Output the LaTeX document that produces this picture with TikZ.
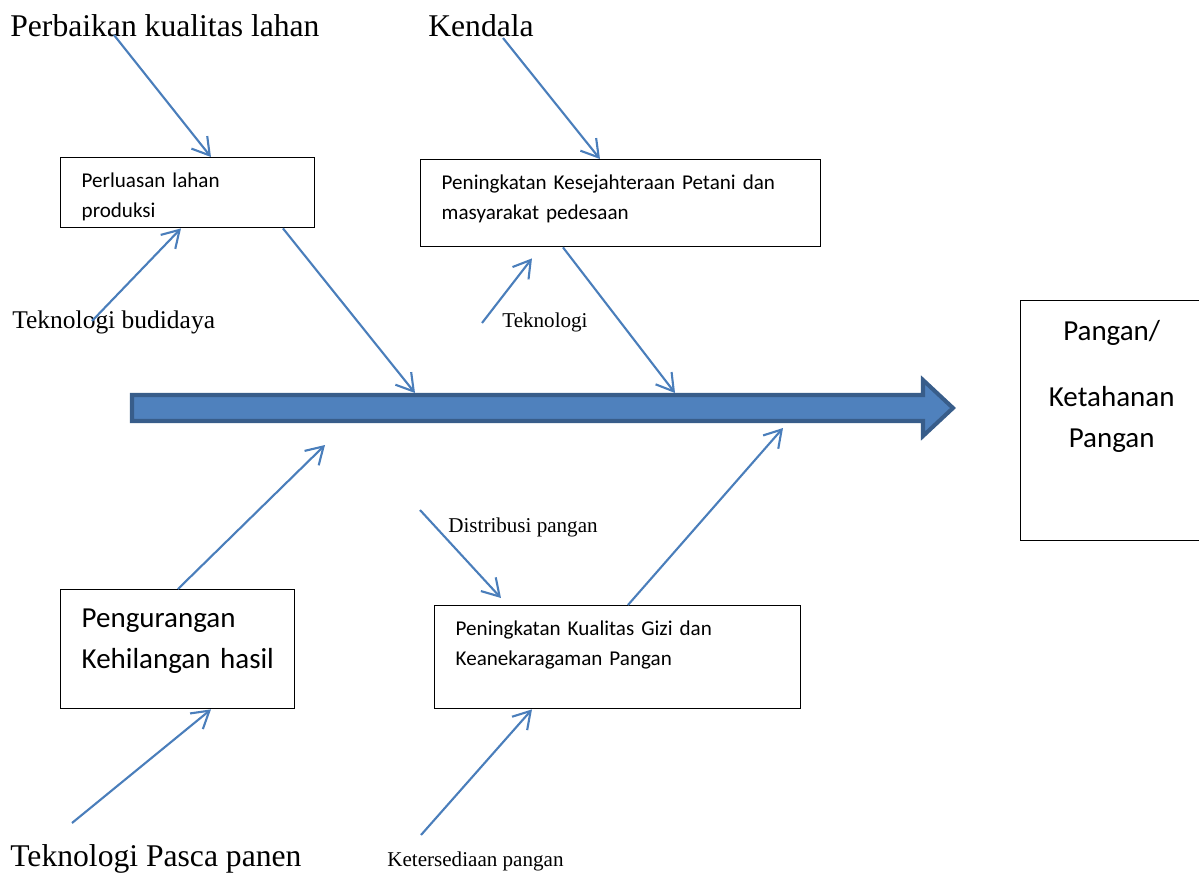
\documentclass[tikz,border=0pt]{standalone}
\usepackage{fontspec}
\setmainfont{Liberation Serif}
\newfontfamily\calibri{Carlito}
\usetikzlibrary{arrows.meta}
\definecolor{lineblue}{RGB}{74,126,187}
\definecolor{spinefill}{RGB}{79,129,189}
\definecolor{spinedraw}{RGB}{56,93,138}
\tikzstyle{box} = [rectangle, draw=black, line width=0.8pt, anchor=north west, inner xsep=0.42cm, inner ysep=0pt, align=left, font=\calibri\fontsize{12}{17}\selectfont]
\tikzstyle{bigbox} = [box, font=\calibri\fontsize{16.5}{23.3}\selectfont]
\tikzstyle{cause} = [inner sep=0pt, anchor=base west, font=\fontsize{18}{20}\selectfont]
\tikzstyle{subcause} = [inner sep=0pt, anchor=base west, font=\fontsize{12}{14}\selectfont]
\tikzstyle{arrow} = [draw=lineblue, line width=1.2pt, -{Straight Barb[length=9.5pt,width=11.5pt]}]
\tikzstyle{spine} = [draw=spinedraw, fill=spinefill, line width=2.3pt]

\begin{document}
\begin{tikzpicture}[x=0.02cm, y=-0.02cm]
				\useasboundingbox (0,0) rectangle (1199,872);
				
				% main arrow
				\draw [spine] (132,395) -- (923,395) -- (923,380) -- (953,408) -- (923,436) -- (923,421) -- (132,421) -- cycle;
				\coordinate (s1) at (415,393);
				\coordinate (s2) at (675,393);
				\coordinate (s3) at (325,445);
				\coordinate (s4) at (783,428);
				
				\node (box1) [box, text width=4.24cm, text height=0.6cm, text depth=0.8cm] at (60,157) {Perluasan lahan\\produksi};
				\node (box2) [box, text width=7.16cm, text height=0.6cm, text depth=1.14cm] at (420,159) {Peningkatan Kesejahteraan Petani dan\\masyarakat pedesaan};
				\node (box3) [bigbox, text width=3.84cm, text height=0.76cm, text depth=1.62cm] at (60,589) {Pengurangan\\Kehilangan~hasil};
				\node (box4) [box, text width=6.48cm, text height=0.6cm, text depth=1.46cm] at (434,605) {Peningkatan Kualitas Gizi dan\\Keanekaragaman Pangan};
				\node (goal) [bigbox, align=center, inner xsep=0pt, text width=3.64cm, text height=0.8cm, text depth=4cm] at (1020,300) {Pangan/\\[14pt]Ketahanan\\Pangan};
				
				\node (perbaikan) [cause] at (10,36) {Perbaikan kualitas lahan};
				\node (kendala) [cause] at (428,36) {Kendala};
				\node (budidaya) [cause, font=\fontsize{14.5}{16}\selectfont] at (12,328) {Teknologi budidaya};
				\node (teknologi) [subcause] at (502,327) {Teknologi};
				\node (distribusi) [subcause] at (448,532) {Distribusi pangan};
				\node (pasca) [cause] at (10,866) {Teknologi Pasca panen};
				\node (sedia) [subcause] at (387,866) {Ketersediaan pangan};
				
				\coordinate (c1) at (114,35);
				\coordinate (c2) at (503,38);
				\coordinate (c3) at (92,321);
				\coordinate (c5) at (482,323);
				\coordinate (c8) at (72,823);
				\coordinate (c9) at (420,510);
				\coordinate (c11) at (421,835);
				
				\draw [arrow] (c1) -- ([xshift=3.02cm]box1.north west);
				\draw [arrow] (c2) -- ([xshift=3.6cm]box2.north west);
				\draw [arrow] (c3) -- ([xshift=2.42cm]box1.south west);
				\draw [arrow] ([xshift=4.46cm]box1.south west) -- (s1);
				\draw [arrow] (c5) -- ([xshift=2.24cm,yshift=-0.22cm]box2.south west);
				\draw [arrow] ([xshift=2.86cm]box2.south west) -- (s2);
				\draw [arrow] ([xshift=2.36cm]box3.north west) -- (s3);
				\draw [arrow] (c8) -- ([xshift=3.02cm]box3.south west);
				\draw [arrow] (c9) -- ([xshift=1.34cm,yshift=0.14cm]box4.north west);
				\draw [arrow] ([xshift=3.88cm]box4.north west) -- (s4);
				\draw [arrow] (c11) -- ([xshift=1.96cm]box4.south west);
				
\end{tikzpicture}
\end{document}
